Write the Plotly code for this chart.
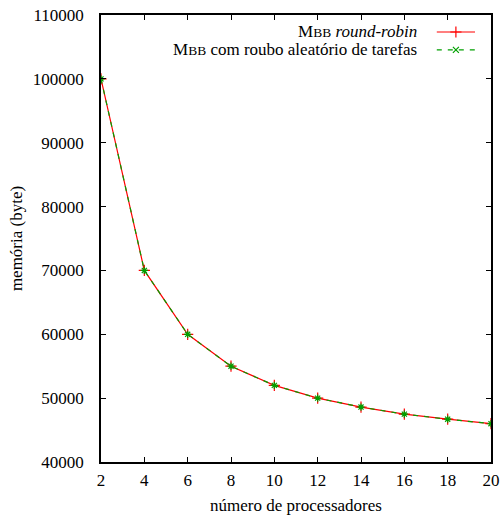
import plotly.graph_objects as go

processors = [2, 4, 6, 8, 10, 12, 14, 16, 18, 20]
mem_round_robin = [100000, 70000, 60000, 55000, 52000, 50000, 48600, 47500, 46700, 46000]
mem_work_stealing = [100000, 70000, 60000, 55000, 52000, 50000, 48600, 47500, 46700, 46000]

RED = "#ff0000"
GREEN = "#00a000"
FONT = "Liberation Serif, Times New Roman, serif"
FS = 17
DASH = "5px,6px"

fig = go.Figure()
fig.add_trace(go.Scatter(
    x=processors, y=mem_round_robin, mode="lines+markers",
    line=dict(color=RED, width=1.2),
    marker=dict(symbol="cross-thin-open", size=8, color=RED, line=dict(color=RED, width=1.2)),
    showlegend=False))
fig.add_trace(go.Scatter(
    x=processors, y=mem_work_stealing, mode="lines+markers",
    line=dict(color=GREEN, width=1.2, dash=DASH),
    marker=dict(symbol="asterisk-open", size=6, color=GREEN, line=dict(color=GREEN, width=1.2)),
    showlegend=False))

# custom gnuplot-style legend samples (overlay axis in [0,1])
lx = [0.861, 0.910, 0.959]
ly1, ly2 = 0.962, 0.922
fig.add_trace(go.Scatter(x=lx, y=[ly1] * 3, xaxis="x2", yaxis="y2", mode="lines",
                         line=dict(color=RED, width=1.2), showlegend=False, hoverinfo="skip"))
fig.add_trace(go.Scatter(x=[lx[1]], y=[ly1], xaxis="x2", yaxis="y2", mode="markers",
                         marker=dict(symbol="cross-thin-open", size=8, color=RED,
                                     line=dict(color=RED, width=1.2)),
                         showlegend=False, hoverinfo="skip"))
fig.add_trace(go.Scatter(x=lx, y=[ly2] * 3, xaxis="x2", yaxis="y2", mode="lines",
                         line=dict(color=GREEN, width=1.2, dash=DASH), showlegend=False, hoverinfo="skip"))
fig.add_trace(go.Scatter(x=[lx[1]], y=[ly2], xaxis="x2", yaxis="y2", mode="markers",
                         marker=dict(symbol="x-thin-open", size=6, color=GREEN,
                                     line=dict(color=GREEN, width=1.2)),
                         showlegend=False, hoverinfo="skip"))

sc = "<span style='font-size:13.5px'>BB</span>"
fig.add_annotation(x=0.815, y=ly1, xref="paper", yref="paper", xanchor="right", yanchor="middle",
                   text="M" + sc + " <i>round-robin</i>", showarrow=False,
                   font=dict(family=FONT, size=FS, color="black"))
fig.add_annotation(x=0.815, y=ly2, xref="paper", yref="paper", xanchor="right", yanchor="middle",
                   text="M" + sc + " com roubo aleatório de tarefas", showarrow=False,
                   font=dict(family=FONT, size=FS, color="black"))

axis_common = dict(showline=True, linecolor="black", linewidth=1.5, mirror="ticks",
                   ticks="inside", ticklen=5, tickcolor="black", tickwidth=1,
                   showgrid=False, zeroline=False, automargin=False,
                   tickfont=dict(family=FONT, size=FS, color="black"))

fig.update_layout(
    width=500, height=519,
    margin=dict(l=101, r=9, t=15, b=57),
    plot_bgcolor="white", paper_bgcolor="white",
    font=dict(family=FONT, size=FS, color="black"),
    xaxis=dict(range=[2, 20], tickvals=processors, ticktext=[str(p) for p in processors],
               ticklabelstandoff=2,
               title=dict(text="número de processadores", standoff=10,
                          font=dict(family=FONT, size=FS)), **axis_common),
    yaxis=dict(range=[40000, 110000], dtick=10000, tickformat="d",
               ticklabelstandoff=12,
               title=dict(text="memória (byte)", standoff=6,
                          font=dict(family=FONT, size=FS)), **axis_common),
    xaxis2=dict(overlaying="x", range=[0, 1], visible=False),
    yaxis2=dict(overlaying="y", range=[0, 1], visible=False),
)

fig.write_html("out.html", config={"displayModeBar": False},
               post_script="document.body.style.margin='0';")
